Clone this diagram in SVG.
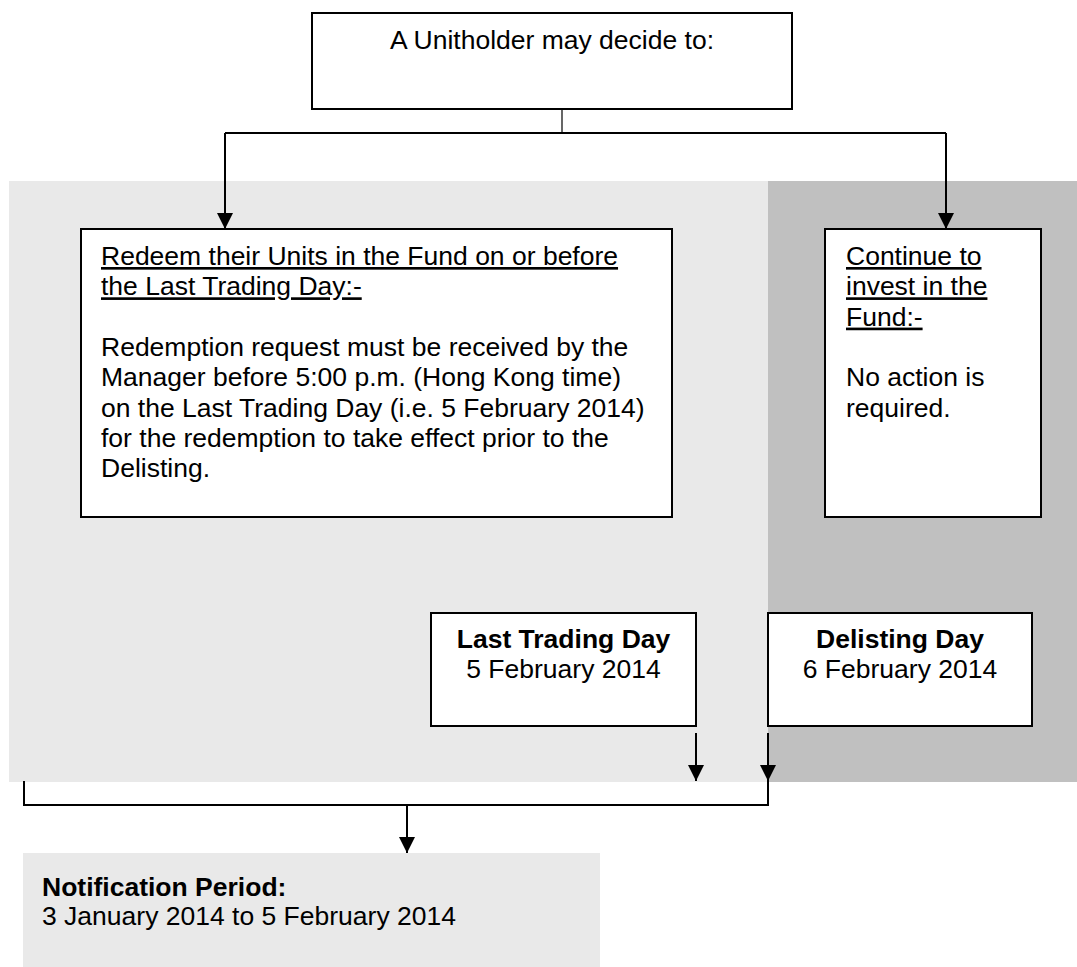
<svg xmlns="http://www.w3.org/2000/svg" width="1077" height="967" viewBox="0 0 1077 967">
<style>
  .t { font-family: "Liberation Sans", Arial, sans-serif; font-size: 26.5px; fill: #000; }
  .b { font-weight: bold; }
  .u { text-decoration: underline; }
  .box { fill: #fff; stroke: #000; stroke-width: 2; }
  .ln { fill: none; stroke: #000; stroke-width: 2; }
</style>
<defs>
  <marker id="ah" markerUnits="userSpaceOnUse" markerWidth="16" markerHeight="17" refX="8" refY="16" orient="auto" viewBox="0 0 16 17">
    <path d="M0,0 L16,0 L8,16 Z" transform="rotate(-90 8 8)" fill="#000"/>
  </marker>
  <marker id="ad" markerUnits="userSpaceOnUse" markerWidth="16" markerHeight="17" refX="8" refY="16" orient="0" viewBox="0 0 16 17">
    <path d="M0,0 L16,0 L8,16 Z" fill="#000"/>
  </marker>
</defs>

<g id="background">
  <rect x="9" y="181" width="760" height="601" fill="#e9e9e9"/>
  <rect x="768" y="181" width="309" height="601" fill="#c0c0c0"/>
</g>

<g id="connectors">
  <line x1="562" y1="109" x2="562" y2="133" stroke="#000" stroke-width="1.2"/>
  <path class="ln" d="M225,133 H946"/>
  <line class="ln" x1="225" y1="133" x2="225" y2="229" marker-end="url(#ad)"/>
  <line class="ln" x1="946" y1="133" x2="946" y2="229" marker-end="url(#ad)"/>
  <line class="ln" x1="696" y1="733" x2="696" y2="781" marker-end="url(#ad)"/>
  <line class="ln" x1="768" y1="733" x2="768" y2="781" marker-end="url(#ad)"/>
  <path class="ln" d="M24,781 V805 H768 V781"/>
  <line class="ln" x1="407" y1="805" x2="407" y2="853" marker-end="url(#ad)"/>
</g>

<g id="decide">
  <rect class="box" x="312" y="13" width="480" height="96"/>
  <text class="t" x="552" y="49" text-anchor="middle">A Unitholder may decide to:</text>
</g>

<g id="redeem">
  <rect class="box" x="81" y="229" width="591" height="288"/>
  <text class="t u" x="101" y="265">Redeem their Units in the Fund on or before</text>
  <text class="t u" x="101" y="295.3">the Last Trading Day:-</text>
  <text class="t" x="101" y="356">Redemption request must be received by the</text>
  <text class="t" x="101" y="386.3">Manager before 5:00 p.m. (Hong Kong time)</text>
  <text class="t" x="101" y="416.6">on the Last Trading Day (i.e. 5 February 2014)</text>
  <text class="t" x="101" y="447">for the redemption to take effect prior to the</text>
  <text class="t" x="101" y="477.3">Delisting.</text>
</g>

<g id="continue">
  <rect class="box" x="825" y="229" width="216" height="288"/>
  <text class="t u" x="846" y="265">Continue to</text>
  <text class="t u" x="846" y="295.3">invest in the</text>
  <text class="t u" x="846" y="325.6">Fund:-</text>
  <text class="t" x="846" y="386.3">No action is</text>
  <text class="t" x="846" y="416.6">required.</text>
</g>

<g id="last-trading-day">
  <rect class="box" x="431" y="613" width="265" height="113"/>
  <text class="t b" x="563.5" y="648" text-anchor="middle">Last Trading Day</text>
  <text class="t" x="563.5" y="678" text-anchor="middle">5 February 2014</text>
</g>

<g id="delisting-day">
  <rect class="box" x="768" y="613" width="264" height="113"/>
  <text class="t b" x="900" y="648" text-anchor="middle">Delisting Day</text>
  <text class="t" x="900" y="678" text-anchor="middle">6 February 2014</text>
</g>

<g id="notification">
  <rect x="23" y="853" width="577" height="114" fill="#e9e9e9"/>
  <text class="t b" x="42" y="896">Notification Period:</text>
  <text class="t" x="42" y="925">3 January 2014 to 5 February 2014</text>
</g>
</svg>
